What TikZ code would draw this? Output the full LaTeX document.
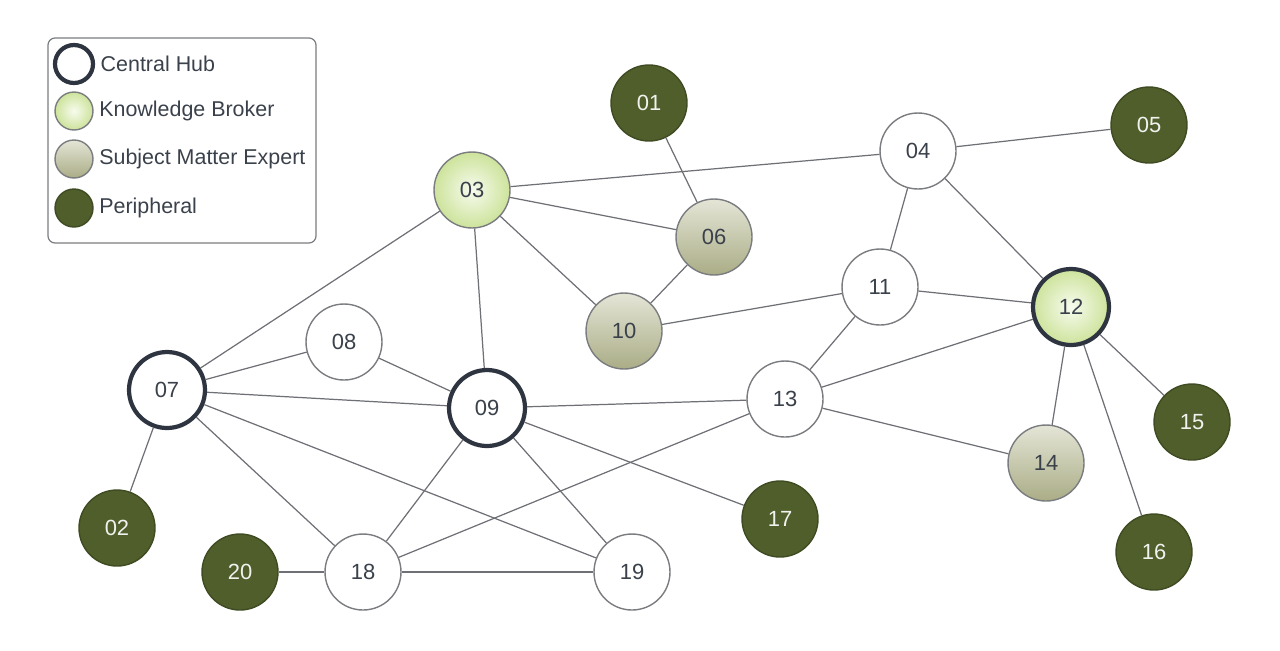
\documentclass[tikz,border=0pt]{standalone}
\usepackage{fontspec}
\setmainfont{Liberation Sans}
\usepackage{tikz}
\usetikzlibrary{positioning}
\usepackage{xcolor}
\definecolor{hubline}{HTML}{2E3540}
\definecolor{edgegray}{HTML}{6E7075}
\definecolor{rimgray}{HTML}{7A7C80}
\definecolor{txtgray}{HTML}{3A414B}
\definecolor{periph}{HTML}{4F5E2B}
\definecolor{brokerin}{HTML}{F7FBEE}
\definecolor{brokerout}{HTML}{CDE39B}
\definecolor{smetop}{HTML}{E4E5D6}
\definecolor{smebot}{HTML}{AAAD86}
\tikzset{
netnode/.style={circle,draw=rimgray,line width=0.8pt,fill=white,minimum size=1.52cm,
  inner sep=0pt,text=txtgray,font=\fontsize{12.5}{14}\selectfont},
hubnode/.style={netnode,draw=hubline,line width=2.4pt},
brokernode/.style={netnode,shading=radial,inner color=brokerin,outer color=brokerout},
smenode/.style={netnode,top color=smetop,bottom color=smebot},
periphnode/.style={netnode,draw=periph!80!black,fill=periph,text=white!92!periph},
keynode/.style={minimum size=0.76cm},
keytext/.style={text=txtgray,font=\fontsize{12.2}{14}\selectfont,inner sep=0pt},
keybox/.style={draw=rimgray,line width=0.7pt,rounded corners=4pt},
link/.style={draw=edgegray,line width=0.7pt}
}
\begin{document}
\begin{tikzpicture}[x=0.02cm,y=-0.02cm]
\useasboundingbox (0,0) rectangle (1280,650);
% legend
\draw[keybox] (48,38) rectangle (316,243);
\node[netnode,keynode,draw=hubline,line width=2.4pt] (khub) at (74,64) {};
\node[brokernode,keynode] (kbrk) at (74,111) {};
\node[smenode,keynode] (ksme) at (74,159) {};
\node[periphnode,keynode] (kper) at (74,208) {};
\node[keytext,right=3pt of khub] {Central Hub};
\node[keytext,right=3pt of kbrk] {Knowledge Broker};
\node[keytext,right=3pt of ksme] {Subject Matter Expert};
\node[keytext,right=3pt of kper] {Peripheral};
% network
\node[periphnode] (n01) at (649,103) {01};
\node[periphnode] (n02) at (117,528) {02};
\node[brokernode] (n03) at (472,190) {03};
\node[netnode] (n04) at (918,151) {04};
\node[periphnode] (n05) at (1149,125) {05};
\node[smenode] (n06) at (714,237) {06};
\node[hubnode] (n07) at (167,390) {07};
\node[netnode] (n08) at (344,342) {08};
\node[hubnode] (n09) at (487,408) {09};
\node[smenode] (n10) at (624,331) {10};
\node[netnode] (n11) at (880,287) {11};
\node[brokernode,draw=hubline,line width=2.4pt] (n12) at (1071,307) {12};
\node[netnode] (n13) at (785,399) {13};
\node[smenode] (n14) at (1046,463) {14};
\node[periphnode] (n15) at (1192,422) {15};
\node[periphnode] (n16) at (1154,552) {16};
\node[periphnode] (n17) at (780,519) {17};
\node[netnode] (n18) at (363,572) {18};
\node[netnode] (n19) at (632,572) {19};
\node[periphnode] (n20) at (240,572) {20};
% links
\foreach \a/\b in {01/06,03/04,04/05,03/06,03/10,06/10,03/07,03/09,04/11,04/12,
  11/10,11/12,11/13,12/13,12/14,12/15,12/16,13/14,13/09,13/18,07/08,07/09,
  07/02,07/18,07/19,08/09,09/18,09/19,09/17,18/19,20/18}
  \draw[link] (n\a) -- (n\b);
\end{tikzpicture}
\end{document}
